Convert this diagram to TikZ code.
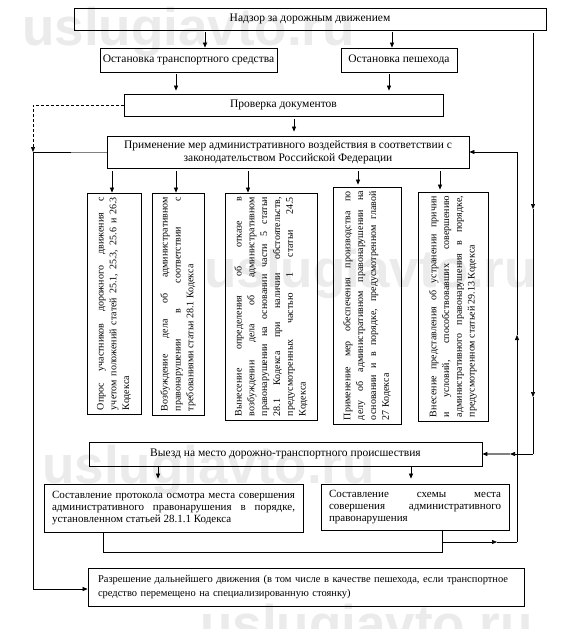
\documentclass[tikz,border=0pt]{standalone}
\usepackage{fontspec}
\setmainfont{Liberation Serif}
\newfontfamily\wmfont{Liberation Sans}
\usetikzlibrary{arrows.meta}
\newcommand\hfnt{\fontsize{11.5}{13}\selectfont\hyphenpenalty=10000 \tolerance=10000 }
\newcommand\pfnt{\fontsize{11}{11.8}\selectfont\hyphenpenalty=10000 \tolerance=10000 }
\newcommand\gfnt{\fontsize{10.5}{14}\selectfont\hyphenpenalty=10000 \tolerance=10000 }
\newcommand\vfnt{\fontsize{10}{12.8}\selectfont\hyphenpenalty=10000 \tolerance=10000 }
\begin{document}
\begin{tikzpicture}[x=1pt,y=-1pt,
  box/.style={draw, line width=0.8pt, inner sep=0pt, font=\hfnt},
  vbox/.style={draw, line width=0.8pt, rotate=90, inner xsep=4pt, inner ysep=0pt, align=justify, font=\vfnt},
  conn/.style={line width=0.7pt},
  tipstyle/.style={-{Triangle[length=5pt,width=4pt,color=black]}},
  arr/.style={conn, tipstyle},
  wm/.style={font=\wmfont\bfseries\fontsize{53}{53}\selectfont, inner sep=0pt, anchor=base west, text=black!8}
]
\useasboundingbox (0,0) rectangle (572,629);
\fill[white] (0,0) rectangle (572,629);
% watermark
\node[wm] (wm1) at (22,45) {uslugiavto.ru};
\node[wm] (wm2) at (204,287) {uslugiavto.ru};
\node[wm] (wm3) at (42,483) {uslugiavto.ru};
\node[wm] (wm4) at (200,642) {uslugiavto.ru};

% boxes
\node[box, minimum width=472pt, minimum height=22pt] (top) at (310,19) {Надзор за дорожным движением};
\node[box, minimum width=177pt, minimum height=24pt] (ots) at (188.5,60) {Остановка транспортного средства};
\node[box, minimum width=116pt, minimum height=24pt] (ped) at (399,60) {Остановка пешехода};
\node[box, minimum width=319pt, minimum height=22pt] (chk) at (283.5,105) {Проверка документов};
\node[box, minimum width=362pt, minimum height=32pt, align=center] (act) at (288,152) {Применение мер административного воздействия в соответствии с\\законодательством Российской Федерации};

\node[vbox, minimum width=221pt, minimum height=54pt, text width=213pt] (v1) at (114,303.5) {Опрос участников дорожного движения с\linebreak учетом положений статей 25.1, 25.3, 25.6 и 26.3\linebreak Кодекса};
\node[vbox, minimum width=222pt, minimum height=52pt, text width=214pt] (v2) at (178,304) {Возбуждение дела об административном\linebreak правонарушении в соответствии с\linebreak требованиями статьи 28.1 Кодекса};
\node[vbox, minimum width=227pt, minimum height=92pt, text width=219pt] (v3) at (271,306.5) {Вынесение определения об отказе в\linebreak возбуждении дела об административном\linebreak правонарушении на основании части 5 статьи\linebreak 28.1 Кодекса при наличии обстоятельств,\linebreak предусмотренных частью 1 статьи 24.5\linebreak Кодекса};
\node[vbox, minimum width=237pt, minimum height=68pt, text width=229pt] (v4) at (367,305.5) {Применение мер обеспечения производства по\linebreak делу об административном правонарушении на\linebreak основании и в порядке, предусмотренном главой\linebreak 27 Кодекса};
\node[vbox, minimum width=229pt, minimum height=70pt, text width=221pt] (v5) at (453,306.5) {Внесение представления об устранении причин\linebreak и условий, способствовавших совершению\linebreak административного правонарушения в порядке,\linebreak предусмотренном статьей 29.13 Кодекса};

\node[box, minimum width=393pt, minimum height=24pt] (trip) at (285.5,454) {Выезд на место дорожно-транспортного происшествия};
\node[box, font=\pfnt, minimum width=259pt, minimum height=48pt, text width=243pt, align=justify] (prot) at (173.5,508) {Составление протокола осмотра места совершения\linebreak административного правонарушения в порядке,\linebreak установленном статьей 28.1.1 Кодекса};
\node[box, font=\pfnt, minimum width=188pt, minimum height=46pt, text width=172pt, align=justify] (plan) at (415,507) {Составление схемы места\linebreak совершения административного\linebreak правонарушения};
\node[box, font=\gfnt, minimum width=436pt, minimum height=38pt, text width=416pt, align=left] (go) at (306,587) {Разрешение дальнейшего движения (в том числе в качестве пешехода, если транспортное\\средство перемещено на специализированную стоянку)};

% x positions of vertical connectors
\coordinate (xa) at (205,0);
\coordinate (xb) at (392,0);
\coordinate (xc) at (176,0);
\coordinate (xd) at (389,0);
\coordinate (xe) at (294,0);
\coordinate (p1) at (112,0);
\coordinate (p2) at (176,0);
\coordinate (p3) at (248,0);
\coordinate (p4) at (358,0);
\coordinate (p5) at (440,0);
\coordinate (q1) at (158,0);
\coordinate (q2) at (411,0);

\draw[arr, shorten <=2pt] (top.south -| xa) -- (ots.north -| xa);
\draw[arr, shorten <=2pt] (top.south -| xb) -- (ped.north -| xb);
\draw[arr, shorten <=2pt, shorten >=3pt] (ots.south -| xc) -- (chk.north -| xc);
\draw[arr, shorten <=2pt, shorten >=3pt] (ped.south -| xd) -- (chk.north -| xd);
\draw[arr, shorten <=3pt, shorten >=4pt] (chk.south -| xe) -- (act.north -| xe);
\draw[arr, shorten <=3pt] (act.south -| p1) -- (v1.east -| p1);
\draw[arr, shorten <=3pt] (act.south -| p2) -- (v2.east -| p2);
\draw[arr, shorten <=3pt] (act.south -| p3) -- (v3.east -| p3);
\draw[arr, shorten <=3pt, shorten >=2pt] (act.south -| p4) -- (v4.east -| p4);
\draw[arr, shorten <=3pt, shorten >=2pt] (act.south -| p5) -- (v5.east -| p5);
\draw[arr, shorten <=1pt, shorten >=5pt] (trip.south -| q1) -- (prot.north -| q1);
\draw[arr, shorten <=1pt, shorten >=5pt] (trip.south -| q2) -- (plan.north -| q2);

% left side
\coordinate (lA) at (33,152);
\coordinate (lB) at (33,589);
\coordinate (lG) at (71,152);
\draw[conn, dash pattern=on 3pt off 2pt, tipstyle] (chk.west) -| (lA);
\draw[conn, gray] (act.west) -- (lG);
\draw[conn] (lG) -- (lA);
\draw[arr] (lA) -- (lB) -- (go.west |- lB);

% right side: from the top box down to the trip box
\coordinate (rA) at (533,209);
\coordinate (rB) at (533,397);
\coordinate (rC) at (533,454);
\coordinate (rD) at (510,454);
\draw[arr, shorten <=3pt] (top.south -| rA) -- (rA);
\draw[arr] (rA) -- (rB);
\draw[conn] (rB) -- (rC);
\draw[arr] (rC) -- (rD);
\draw[arr, draw=gray, line width=1.2pt] (rD) -- (trip.east);

% bottom loop back to the measures box
\coordinate (bA) at (103,552);
\coordinate (bB) at (442,552);
\coordinate (bC) at (442,542);
\coordinate (bD) at (497,542);
\coordinate (bE) at (517,542);
\coordinate (bF) at (517,335);
\coordinate (bG) at (517,152);
\draw[conn] (prot.south -| bA) -- (bA) -- (bB) -- (plan.south -| bB);
\draw[arr] (bC) -- (bD);
\draw[conn] (bD) -- (bE);
\draw[arr] (bE) -- (bF);
\draw[conn] (bF) -- (bG);
\draw[arr] (bG) -- (act.east);
\end{tikzpicture}
\end{document}
